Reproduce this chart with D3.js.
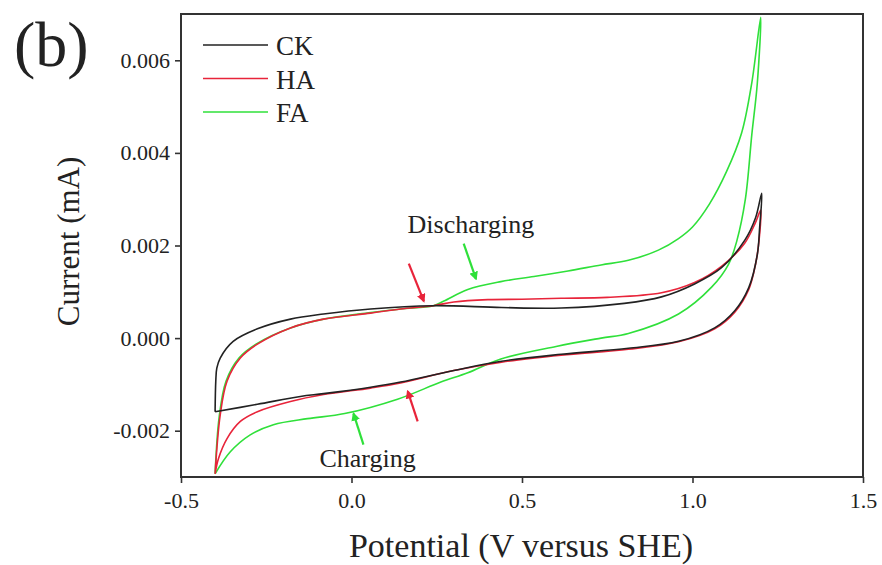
<!DOCTYPE html>
<html>
<head>
<meta charset="utf-8">
<script src="https://cdn.jsdelivr.net/npm/d3@7"></script>
<style>
  body { margin: 0; background: #fff; }
  svg text { font-family: "Liberation Serif", "DejaVu Serif", serif; fill: #222; }
</style>
</head>
<body>
<svg id="chart" width="882" height="565"></svg>
<script>
// CV scans, [potential V, current mA]; anodic branch then cathodic branch
var ckScan = [
  [-0.400, -0.00159], [-0.398, -0.00093], [-0.395, -0.00065], [-0.385, -0.00043],
  [-0.347, -0.00007], [-0.276, 0.00020], [-0.179, 0.00041], [-0.082, 0.00052],
  [0.056, 0.00063], [0.240, 0.00070], [0.440, 0.00066], [0.615, 0.00065],
  [0.800, 0.00075], [0.909, 0.00089], [1.006, 0.00117], [1.085, 0.00152],
  [1.153, 0.00211], [1.185, 0.00260], [1.203, 0.00313],
  [1.197, 0.00240], [1.190, 0.00180], [1.165, 0.00109], [1.124, 0.00059],
  [1.065, 0.00022], [0.959, -0.00007], [0.812, -0.00022], [0.615, -0.00035],
  [0.440, -0.00050], [0.300, -0.00070], [0.144, -0.00095], [0.056, -0.00106],
  [-0.082, -0.00120], [-0.150, -0.00126], [-0.276, -0.00143], [-0.400, -0.00159]
];
var haScan = [
  [-0.400, -0.00293], [-0.385, -0.00166], [-0.365, -0.00093], [-0.326, -0.00043],
  [-0.276, -0.00013], [-0.179, 0.00022], [-0.082, 0.00041], [0.056, 0.00054],
  [0.144, 0.00063], [0.240, 0.00070], [0.300, 0.00078], [0.400, 0.00083],
  [0.500, 0.00084], [0.615, 0.00086], [0.750, 0.00088], [0.909, 0.00098],
  [1.006, 0.00120], [1.085, 0.00155], [1.153, 0.00205], [1.185, 0.00250], [1.200, 0.00276],
  [1.195, 0.00210], [1.185, 0.00160], [1.165, 0.00105], [1.124, 0.00056],
  [1.065, 0.00020], [0.959, -0.00008], [0.812, -0.00024], [0.615, -0.00037],
  [0.440, -0.00052], [0.300, -0.00070], [0.144, -0.00097], [0.056, -0.00108],
  [-0.082, -0.00122], [-0.179, -0.00137], [-0.276, -0.00159], [-0.326, -0.00180],
  [-0.365, -0.00217], [-0.390, -0.00260], [-0.400, -0.00293]
];
var faScan = [
  [-0.400, -0.00293], [-0.388, -0.00170], [-0.368, -0.00093], [-0.330, -0.00043],
  [-0.280, -0.00013], [-0.179, 0.00022], [-0.082, 0.00041], [0.056, 0.00055],
  [0.144, 0.00063], [0.240, 0.00070], [0.271, 0.00080], [0.341, 0.00105],
  [0.438, 0.00122], [0.535, 0.00133], [0.635, 0.00145], [0.732, 0.00158],
  [0.812, 0.00168], [0.900, 0.00190], [0.959, 0.00215], [1.000, 0.00240],
  [1.050, 0.00290], [1.100, 0.00360], [1.144, 0.00443], [1.174, 0.00552], [1.200, 0.00693],
  [1.190, 0.00550], [1.174, 0.00440], [1.155, 0.00300], [1.130, 0.00210],
  [1.106, 0.00160], [1.056, 0.00110], [0.959, 0.00052], [0.812, 0.00010],
  [0.732, 0.00000], [0.600, -0.00018], [0.438, -0.00045], [0.341, -0.00075],
  [0.262, -0.00095], [0.135, -0.00132], [-0.020, -0.00163], [-0.129, -0.00174],
  [-0.229, -0.00187], [-0.297, -0.00209], [-0.356, -0.00246], [-0.400, -0.00293]
];

var seriesNames = ["CK", "HA", "FA"];
var seriesColors = ["#222222", "#e8243a", "#2fe03a"];
var seriesData = [ckScan, haScan, faScan];

var xTicks = [-0.5, 0.0, 0.5, 1.0, 1.5];
var yTicks = [-0.002, 0.000, 0.002, 0.004, 0.006];

// arrows: [x1, y1, x2, y2] in data units, head at (x2, y2)
var arrowLines = [
  [0.168, 0.00161, 0.212, 0.00080],
  [0.329, 0.00204, 0.365, 0.00128],
  [0.194, -0.00180, 0.165, -0.00115],
  [0.035, -0.00230, 0.006, -0.00163]
];
var arrowColors = ["#e8243a", "#2fe03a", "#e8243a", "#2fe03a"];
var noteTexts = ["Discharging", "Charging"];
var notePos = [[0.350, 0.00226], [0.047, -0.00278]];

var svg = d3.select("#chart");
var margin = {left: 181, top: 14, right: 19, bottom: 88};
var W = 882, H = 565;

var x = d3.scaleLinear().domain([-0.5, 1.5]).range([margin.left, W - margin.right]);
var y = d3.scaleLinear().domain([-0.003, 0.007]).range([H - margin.bottom, margin.top]);

var defs = svg.append("defs");
defs.append("clipPath").attr("id", "plotClip")
  .append("rect")
  .attr("x", x(-0.5)).attr("y", y(0.007))
  .attr("width", x(1.5) - x(-0.5)).attr("height", y(-0.003) - y(0.007));

["#e8243a", "#2fe03a"].forEach(function(c, i) {
  defs.append("marker")
    .attr("id", "head" + i)
    .attr("viewBox", "0 0 10 10")
    .attr("refX", 8).attr("refY", 5)
    .attr("markerWidth", 4).attr("markerHeight", 4)
    .attr("orient", "auto")
    .append("path").attr("d", "M0,0 L10,5 L0,10 Z").attr("fill", c);
});

// curves
var line = d3.line()
  .x(function(d) { return x(d[0]); })
  .y(function(d) { return y(d[1]); })
  .curve(d3.curveCatmullRom.alpha(0.5));

var plot = svg.append("g").attr("clip-path", "url(#plotClip)");
[2, 1, 0].forEach(function(i) {
  plot.append("path")
    .datum(seriesData[i])
    .attr("d", line)
    .attr("fill", "none")
    .attr("stroke", seriesColors[i])
    .attr("stroke-width", 1.6)
    .attr("stroke-linejoin", "round");
});

// axes
var xAxis = d3.axisBottom(x).tickValues(xTicks).tickSize(6).tickPadding(9)
  .tickFormat(function(d) { return d.toFixed(1); });
var yAxis = d3.axisLeft(y).tickValues(yTicks).tickSize(6).tickPadding(5)
  .tickFormat(function(d) { return d.toFixed(3); });

var gx = svg.append("g").attr("transform", "translate(0," + y(-0.003) + ")").call(xAxis);
var gy = svg.append("g").attr("transform", "translate(" + x(-0.5) + ",0)").call(yAxis);
[gx, gy].forEach(function(g) {
  g.select(".domain").remove();
  g.selectAll(".tick line").attr("stroke", "#333").attr("stroke-width", 1.6);
  g.selectAll(".tick text")
    .attr("font-size", 22)
    .attr("fill", "#222");
});

svg.append("rect")
  .attr("x", x(-0.5)).attr("y", y(0.007))
  .attr("width", x(1.5) - x(-0.5)).attr("height", y(-0.003) - y(0.007))
  .attr("fill", "none").attr("stroke", "#333").attr("stroke-width", 2);

// axis titles
svg.append("text")
  .attr("x", 521).attr("y", 557)
  .attr("text-anchor", "middle").attr("font-size", 34)
  .text("Potential (V versus SHE)");

svg.append("text")
  .attr("transform", "translate(79," + ((y(-0.003) + y(0.007)) / 2 - 4) + ") rotate(-90)")
  .attr("text-anchor", "middle").attr("font-size", 31)
  .text("Current (mA)");

svg.append("text")
  .attr("x", 14).attr("y", 66)
  .attr("font-size", 64)
  .text("(b)");

// legend
var legend = svg.append("g");
seriesNames.forEach(function(name, i) {
  var ly = 45 + i * 33.5;
  legend.append("line")
    .attr("x1", 203).attr("x2", 268)
    .attr("y1", ly).attr("y2", ly)
    .attr("stroke", seriesColors[i]).attr("stroke-width", 1.6);
  legend.append("text")
    .attr("x", 276).attr("y", ly + 10)
    .attr("font-size", 27)
    .text(name);
});

// annotations
arrowLines.forEach(function(a, i) {
  svg.append("line")
    .attr("x1", x(a[0])).attr("y1", y(a[1]))
    .attr("x2", x(a[2])).attr("y2", y(a[3]))
    .attr("stroke", arrowColors[i]).attr("stroke-width", 2.2)
    .attr("marker-end", "url(#head" + (arrowColors[i] === "#e8243a" ? 0 : 1) + ")");
});
noteTexts.forEach(function(t, i) {
  svg.append("text")
    .attr("x", x(notePos[i][0])).attr("y", y(notePos[i][1]))
    .attr("text-anchor", "middle").attr("font-size", 26)
    .text(t);
});
</script>
</body>
</html>
